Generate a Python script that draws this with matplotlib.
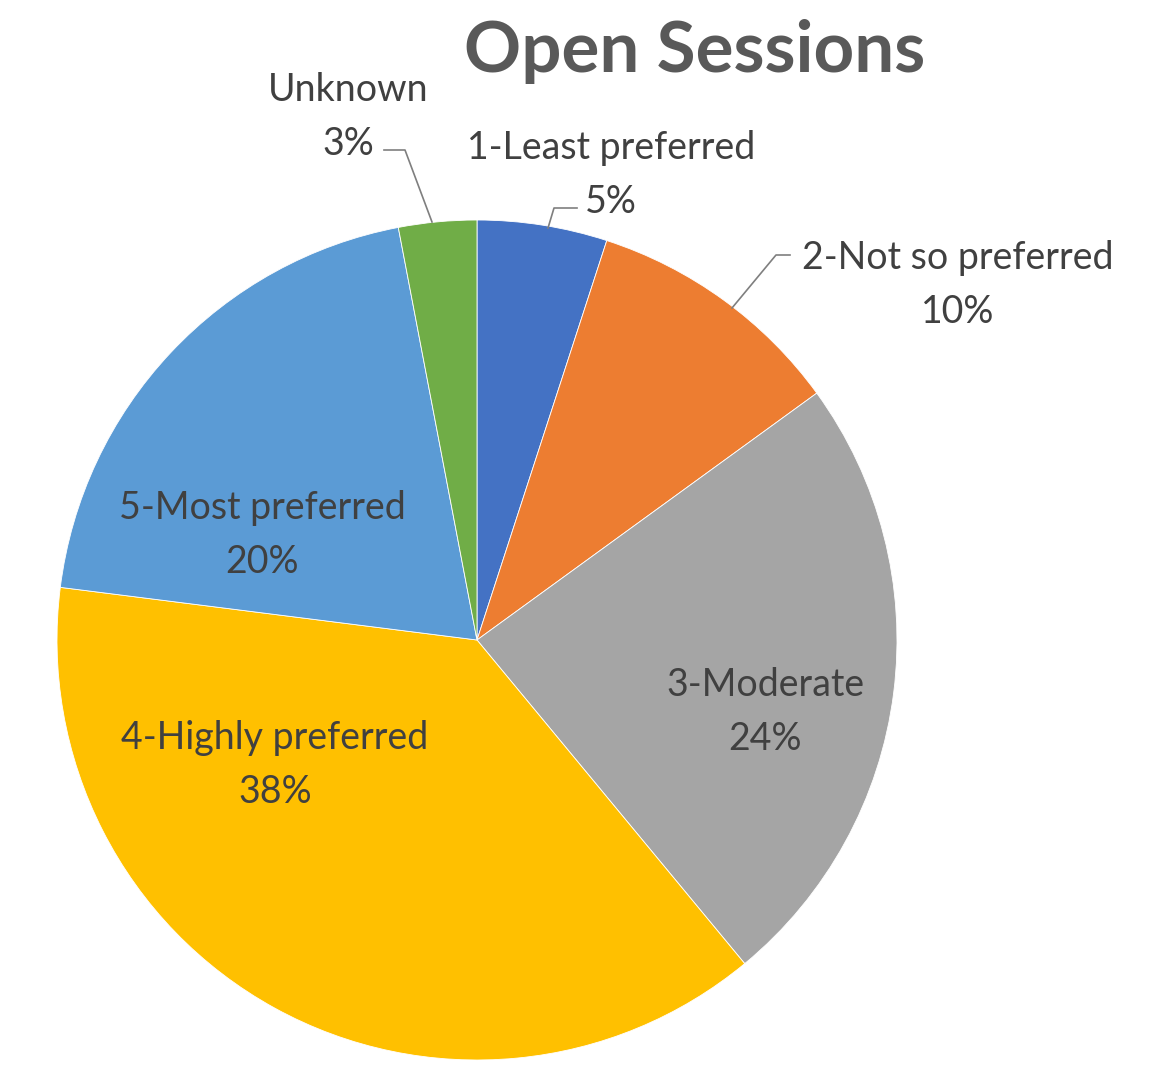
import matplotlib.pyplot as plt

# data
categories = ['1-Least preferred', '2-Not so preferred', '3-Moderate',
              '4-Highly preferred', '5-Most preferred', 'Unknown']
values = [5, 10, 24, 38, 20, 3]
colors = ['#4472C4', '#ED7D31', '#A5A5A5', '#FFC000', '#5B9BD5', '#70AD47']

W, H = 1149, 1070
fig = plt.figure(figsize=(W / 100, H / 100), dpi=100)
ax = fig.add_axes([0, 0, 1, 1])

cx, cy, r = 477, H - 640, 420
ax.pie(values, colors=colors, startangle=90, counterclock=False,
       center=(cx, cy), radius=r, frame=True,
       wedgeprops=dict(edgecolor='white', linewidth=0.6))
ax.set_xlim(0, W)
ax.set_ylim(0, H)
ax.set_aspect('equal')
ax.axis('off')

fam = ['Lato', 'DejaVu Sans']
tc = '#404040'

ax.text(695, H - 52, 'Open Sessions', ha='center', va='center',
        fontsize=51, fontweight='bold', color='#595959', family=fam)

# label positions in pixels (x, y of first line)
lab_pos = {
    'Unknown': (348, 90),
    '1-Least preferred': (611, 148),
    '2-Not so preferred': (958, 258),
    '5-Most preferred': (262, 508),
    '4-Highly preferred': (275, 738),
    '3-Moderate': (765, 685),
}
for cat, v in zip(categories, values):
    x, y = lab_pos[cat]
    ax.text(x, H - y, cat, ha='center', va='center', fontsize=27,
            color=tc, family=fam)
    ax.text(x, H - y - 54, '%d%%' % v, ha='center', va='center',
            fontsize=27, color=tc, family=fam)

# leader lines
lc = '#7f7f7f'
ax.plot([384, 405, 432], [H - 150, H - 150, H - 222], color=lc, lw=1.2)
ax.plot([577, 554, 548], [H - 208, H - 208, H - 228], color=lc, lw=1.2)
ax.plot([790, 776, 732], [H - 255, H - 255, H - 308], color=lc, lw=1.2)

fig.savefig('out.png', dpi=100)
